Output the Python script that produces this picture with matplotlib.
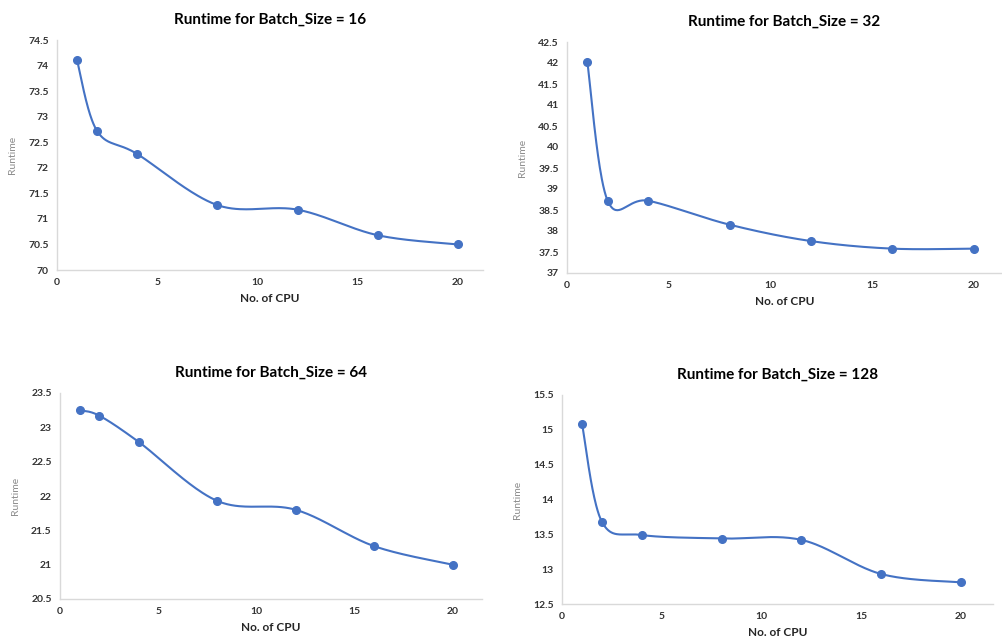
import numpy as np
import matplotlib
matplotlib.use("Agg")
import matplotlib.pyplot as plt

# CPU counts shared by all four runs
cpus = [1, 2, 4, 8, 12, 16, 20]

# runtimes
runtime_16 = [74.1, 72.72, 72.27, 71.27, 71.18, 70.68, 70.5]
runtime_32 = [42.02, 38.72, 38.72, 38.15, 37.76, 37.58, 37.58]
runtime_64 = [23.25, 23.17, 22.79, 21.93, 21.80, 21.27, 21.0]
runtime_128 = [15.09, 13.68, 13.49, 13.44, 13.42, 12.93, 12.81]

batch_sizes = [16, 32, 64, 128]
runtimes = [runtime_16, runtime_32, runtime_64, runtime_128]
ylims = [(70, 74.5), (37, 42.5), (20.5, 23.5), (12.5, 15.5)]

plt.rcParams['font.family'] = ['Lato', 'DejaVu Sans']

W, H = 1003, 641
# pixel boxes: left, right, top, bottom, x-range max
boxes = [(57, 483, 40, 270, 21.25),
         (567, 1002, 42, 273, 21.4),
         (60, 482, 393, 599, 21.5),
         (562, 993, 395, 604, 21.6)]

BLUE = '#4472C4'


# Excel style smoothed line (bezier through points, done in screen space)
def smooth_line(ax, xs, ys, n=40):
    pts = ax.transData.transform(np.column_stack([xs, ys]))
    out = []
    for i in range(len(pts) - 1):
        p0 = pts[i - 1] if i > 0 else pts[i]
        p1 = pts[i]
        p2 = pts[i + 1]
        p3 = pts[i + 2] if i + 2 < len(pts) else pts[i + 1]
        c1 = p1 + (p2 - p0) / 6.0
        c2 = p2 - (p3 - p1) / 6.0
        t = np.linspace(0, 1, n)[:, None]
        seg = ((1 - t) ** 3) * p1 + 3 * ((1 - t) ** 2) * t * c1 + 3 * (1 - t) * t ** 2 * c2 + t ** 3 * p2
        out.append(seg)
    out = np.vstack(out)
    return ax.transData.inverted().transform(out)


fig = plt.figure(figsize=(W / 100, H / 100), dpi=100)

for (l, r, t, b, xmax), bs, rt, yl in zip(boxes, batch_sizes, runtimes, ylims):
    ax = fig.add_axes([l / W, 1 - b / H, (r - l) / W, (b - t) / H])
    ax.set_xlim(0, xmax)
    ax.set_ylim(*yl)
    ax.set_xticks([0, 5, 10, 15, 20])
    ax.set_yticks(np.arange(yl[0], yl[1] + 0.01, 0.5))
    ax.set_yticklabels(['%g' % v for v in np.arange(yl[0], yl[1] + 0.01, 0.5)])
    for s in ['top', 'right']:
        ax.spines[s].set_visible(False)
    for s in ['left', 'bottom']:
        ax.spines[s].set_color('#d9d9d9')
        ax.spines[s].set_linewidth(1)
    ax.tick_params(length=0, labelsize=7.5, colors='#333333', pad=6)
    for lab in ax.get_xticklabels() + ax.get_yticklabels():
        lab.set_fontweight('bold')

    curve = smooth_line(ax, cpus, rt)
    ax.plot(curve[:, 0], curve[:, 1], color=BLUE, lw=1.5, zorder=2)
    ax.plot(cpus, rt, 'o', color=BLUE, ms=5.5, zorder=3)

    ax.set_title('Runtime for Batch_Size = %d' % bs, fontsize=11, fontweight='bold', pad=12)
    ax.set_xlabel('No. of CPU', fontsize=8.5, fontweight='bold', color='#262626', labelpad=4)
    ax.set_ylabel('Runtime', fontsize=7.5, color='#8c8c8c', labelpad=8)

fig.savefig('out.png', dpi=100)
